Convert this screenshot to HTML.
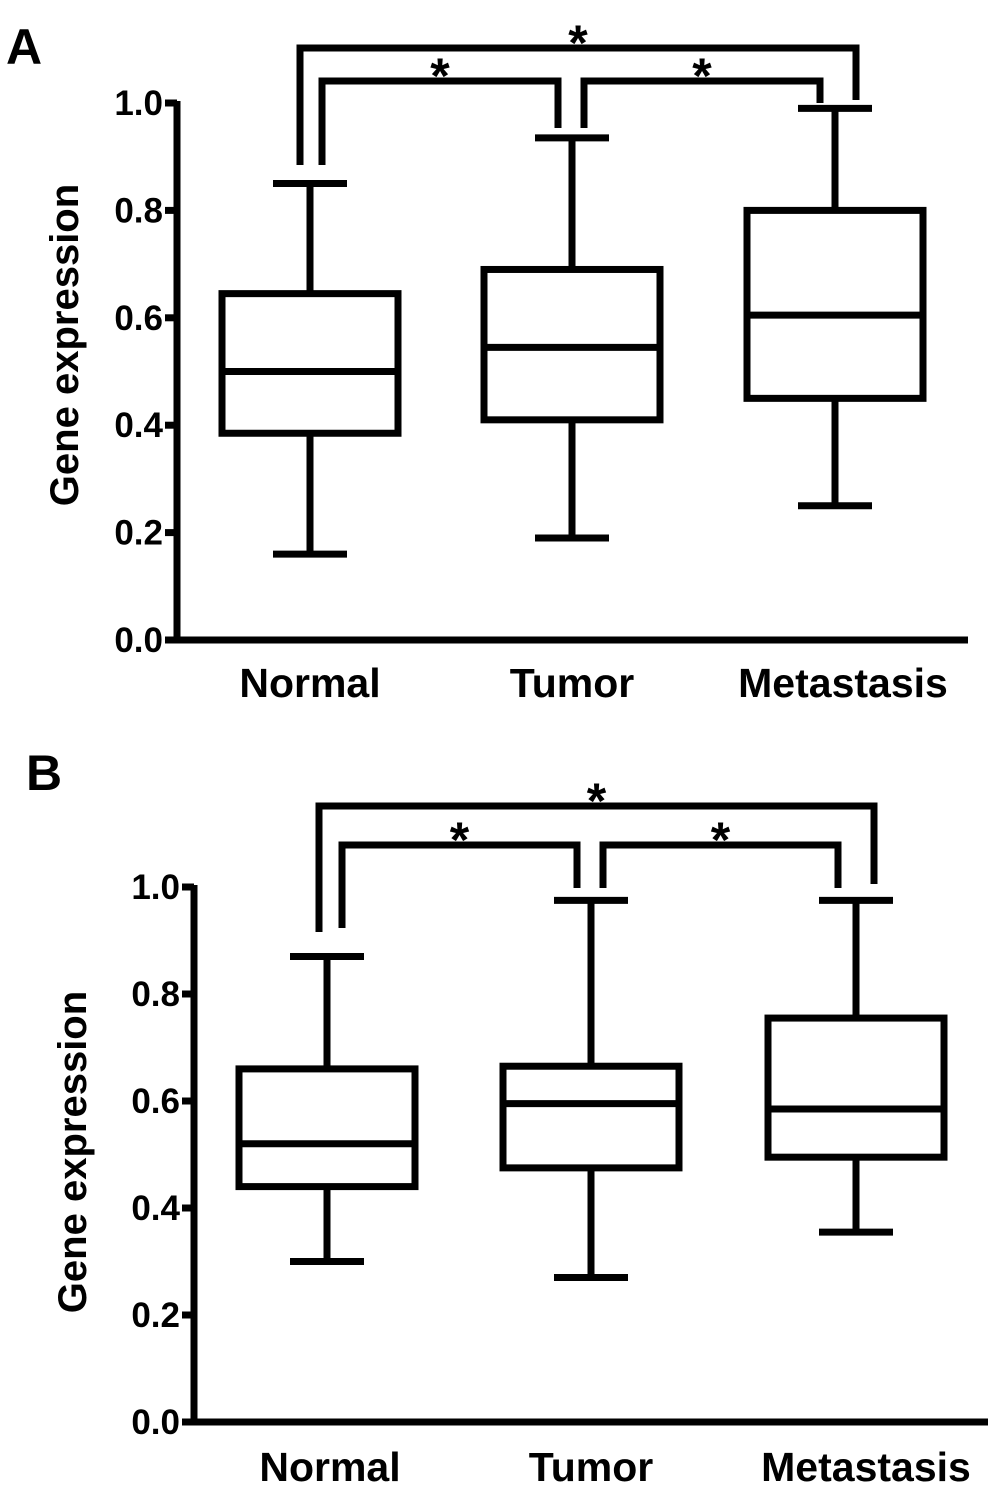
<!DOCTYPE html>
<html><head><meta charset="utf-8"><style>
body{margin:0;background:#fff}
svg{display:block;font-family:"Liberation Sans",Arial,sans-serif;font-weight:bold}
</style></head><body>
<svg id="s" width="1004" height="1494" viewBox="0 0 1004 1494"></svg>
<script>
const categories=["Normal","Tumor","Metastasis"];
const tickLabels=["0.0","0.2","0.4","0.6","0.8","1.0"];
const tickValues=[0,0.2,0.4,0.6,0.8,1.0];
const aMin=[0.16,0.19,0.25],aQ1=[0.385,0.41,0.45],aMed=[0.50,0.545,0.605],aQ3=[0.645,0.69,0.80],aMax=[0.85,0.935,0.99];
const bMin=[0.30,0.27,0.355],bQ1=[0.44,0.475,0.495],bMed=[0.52,0.595,0.585],bQ3=[0.66,0.665,0.755],bMax=[0.87,0.975,0.975];
const svg=document.getElementById('s');const NS='http://www.w3.org/2000/svg';
function el(t,a,p){const e=document.createElementNS(NS,t);for(const k in a)e.setAttribute(k,a[k]);(p||svg).appendChild(e);return e;}
function panel(P){
 const g=el('g',{});
 
 
 const y=v=>P.y0+(P.y1-P.y0)*v;
 const L={stroke:'#000','stroke-width':7,fill:'none','stroke-linecap':'butt'};
 const lt=el('text',{x:P.lx,y:P.ly,'font-size':50},g);lt.textContent=P.letter;
 
 const ax=el('path',Object.assign({d:`M${P.ax} ${y(1)-2}V${P.y0}H${P.axEnd}`},L),g);
 
 tickValues.forEach((v,i)=>{
  const tk=el('line',Object.assign({x1:P.ax-12,x2:P.ax,y1:y(v),y2:y(v)},L),g);
  
  const t=el('text',{x:P.ax-14,y:y(v)+12,'font-size':35,'text-anchor':'end'},g);t.textContent=tickLabels[i];
  
 });
 const yt=el('text',{transform:`translate(${P.ytx},${P.yty}) rotate(-90)`,'font-size':40,'text-anchor':'middle'},g);
 yt.textContent='Gene expression';
 categories.forEach((c,i)=>{
  const cx=P.cx[i],hw=88;
  const bx=el('g',{},g);
  
  el('path',Object.assign({d:`M${cx} ${y(P.q3[i])}V${y(P.max[i])}M${cx-37} ${y(P.max[i])}H${cx+37}M${cx} ${y(P.q1[i])}V${y(P.min[i])}M${cx-37} ${y(P.min[i])}H${cx+37}`},L),bx);
  el('rect',Object.assign({x:cx-hw,y:y(P.q3[i]),width:2*hw,height:y(P.q1[i])-y(P.q3[i])},L),bx);
  el('line',Object.assign({x1:cx-hw,x2:cx+hw,y1:y(P.med[i]),y2:y(P.med[i])},L),bx);
  const t=el('text',{x:P.lbx[i],y:P.lby,'font-size':41,'text-anchor':'middle'},g);t.textContent=c;
  
 });
 P.br.forEach(b=>{
  const p=el('path',Object.assign({d:`M${b[0]} ${b[3]}V${b[2]}H${b[1]}V${b[4]}`},L),g);
  
  const s=el('text',{x:(b[0]+b[1])/2,y:b[2]+12,'font-size':50,'text-anchor':'middle'},g);s.textContent='*';
  
 });
}
panel({letter:'A',lx:6,ly:64,ax:177,axEnd:968,y0:640,y1:103,ytx:78,yty:345,cx:[310,572,835],lbx:[310,572,843],lby:697,
 min:aMin,q1:aQ1,med:aMed,q3:aQ3,max:aMax,
 br:[[300,856,48,165,100],[322,558,81,165,128],[584,820,81,128,103]]});
panel({letter:'B',lx:26,ly:790,ax:194,axEnd:988,y0:1422,y1:887,ytx:86,yty:1152,cx:[327,591,856],lbx:[330,591,866],lby:1481,
 min:bMin,q1:bQ1,med:bMed,q3:bQ3,max:bMax,
 br:[[319,874,806,932,884],[342,577,845,928,888],[603,838,845,888,888]]});
</script>
</body></html>
